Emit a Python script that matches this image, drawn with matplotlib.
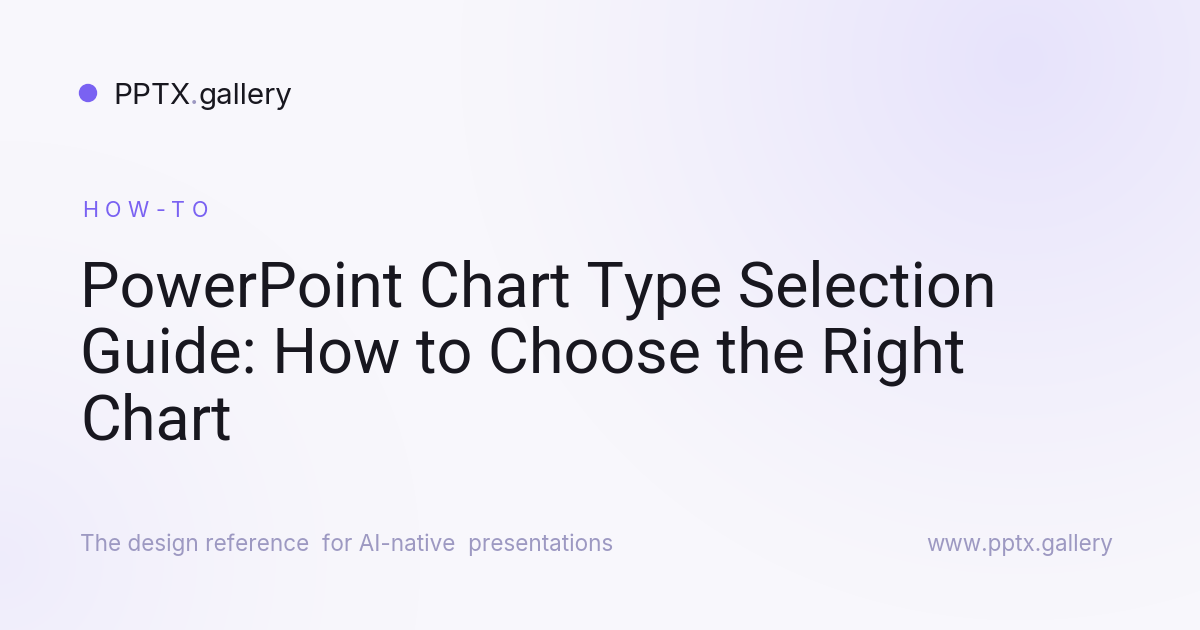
import numpy as np
import matplotlib

matplotlib.use("Agg")
import matplotlib.pyplot as plt

W, H = 1200, 630

brand = "PPTX"
brand_tail = "gallery"
kicker = "HOW-TO"
title_lines = ["PowerPoint Chart Type Selection",
               "Guide: How to Choose the Right",
               "Chart"]
tagline = "The design reference  for AI-native  presentations"
url = "www.pptx.gallery"

PURPLE = "#7a62f2"
INK = "#18171f"
MUTED = "#9d99c2"

fig = plt.figure(figsize=(W / 100, H / 100), dpi=100)
ax = fig.add_axes([0, 0, 1, 1])
ax.set_xlim(0, W)
ax.set_ylim(H, 0)
ax.axis("off")

# soft background: near white with a lavender glow top right, faint one bottom left
yy, xx = np.mgrid[0:H, 0:W]
base = np.array([248, 247, 252]) / 255
glow = np.array([231, 227, 251]) / 255
d1 = np.hypot(xx - 1020, yy - 60) / 560
d2 = np.hypot(xx - 0, yy - 560) / 420
w = np.clip(1 - d1, 0, 1) ** 1.2 + 0.55 * np.clip(1 - d2, 0, 1) ** 1.6
w = np.clip(w, 0, 1)[..., None]
img = base * (1 - w) + glow * w
ax.imshow(img, extent=[0, W, H, 0], zorder=0)

font = "Inter"
title_font = "Roboto"

# logo
ax.add_patch(plt.Circle((88, 93), 8.5, color=PURPLE, zorder=2))
fig.canvas.draw()
r = fig.canvas.get_renderer()
t = ax.text(113, 104, brand, fontsize=21.3, family=font, color=INK, va="baseline")
x = t.get_window_extent(r).x1
t = ax.text(x, 104, ".", fontsize=21.3, family=font, color=MUTED, va="baseline")
x = t.get_window_extent(r).x1
ax.text(x, 104, brand_tail, fontsize=21.3, family=font, color=INK, va="baseline")

# kicker with letter spacing
x = 82
for ch in kicker:
    t = ax.text(x, 217, ch, fontsize=15.5, family=font, color=PURPLE, va="baseline")
    x = t.get_window_extent(r).x1 + 6.5

# title, sized so the second line spans about 82..965 px
probe = ax.text(80, 373, title_lines[1], fontsize=44, family=title_font, va="baseline")
size = 44 * 885 / probe.get_window_extent(r).width
probe.remove()
for i, line in enumerate(title_lines):
    ax.text(80, 306 + i * 67, line, fontsize=size, family=title_font, color=INK, va="baseline")

# footer
ax.text(80, 551, tagline, fontsize=16.2, family=font, color=MUTED, va="baseline")
ax.text(1113, 551, url, fontsize=16.2, family=font, color=MUTED, va="baseline", ha="right")

fig.savefig("out.png", dpi=100)
